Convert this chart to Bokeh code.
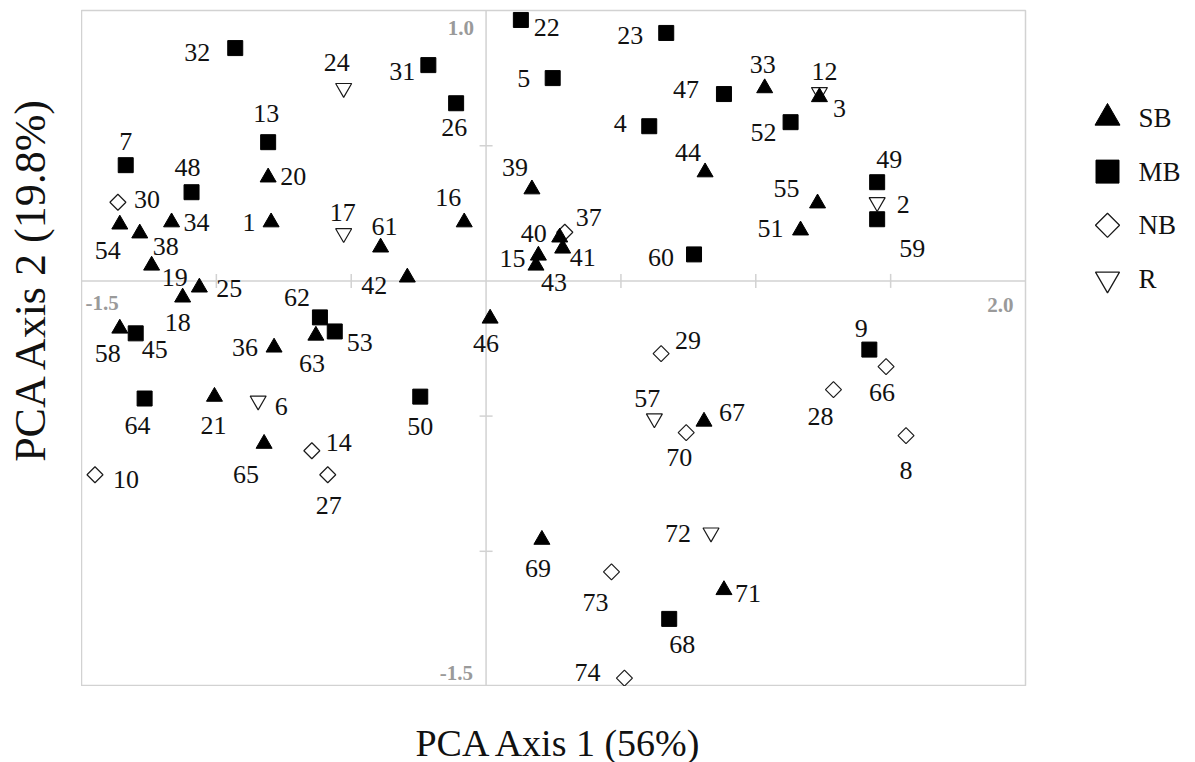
import math
from bokeh.plotting import figure
from bokeh.models import Range1d, ColumnDataSource
from bokeh.layouts import row, column
from bokeh.embed import file_html
from bokeh.resources import INLINE
from bokeh.core.properties import value

# ---------------- data ----------------
groups = ["SB", "MB", "NB", "R"]

sb_ids = [1, 3, 15, 16, 18, 19, 20, 21, 25, 33, 34, 36, 38, 39, 40, 41, 42, 43, 44, 46,
          51, 54, 55, 58, 61, 63, 65, 67, 69, 71]
sb_x = [-0.797, 1.236, 0.194, -0.081, -1.125, -1.240, -0.808, -1.007, -1.063, 1.033,
        -1.166, -0.786, -1.284, 0.170, 0.273, 0.284, -0.292, 0.185, 0.812, 0.015,
        1.166, -1.358, 1.229, -1.358, -0.391, -0.631, -0.823, 0.808, 0.207, 0.882]
sb_y = [0.217, 0.680, 0.094, 0.217, -0.061, 0.057, 0.383, -0.428, -0.024, 0.713,
        0.217, -0.246, 0.176, 0.339, 0.161, 0.120, 0.013, 0.057, 0.402, -0.139,
        0.187, 0.209, 0.287, -0.176, 0.124, -0.202, -0.602, -0.520, -0.957, -1.143]

mb_ids = [4, 5, 7, 9, 13, 22, 23, 26, 31, 32, 45, 47, 48, 49, 50, 52, 53, 59, 60, 62, 64, 68]
mb_x = [0.605, 0.247, -1.336, 1.421, -0.808, 0.129, 0.668, -0.111, -0.214, -0.930,
        -1.299, 0.882, -1.092, 1.450, -0.244, 1.129, -0.561, 1.450, 0.771, -0.616,
        -1.266, 0.679]
mb_y = [0.572, 0.750, 0.428, -0.254, 0.513, 0.965, 0.917, 0.657, 0.798, 0.861,
        -0.194, 0.691, 0.328, 0.365, -0.428, 0.587, -0.187, 0.228, 0.098, -0.135,
        -0.435, -1.250]

nb_ids = [8, 10, 14, 27, 28, 29, 30, 37, 66, 70, 73, 74]
nb_x = [1.557, -1.450, -0.646, -0.587, 1.288, 0.649, -1.365, 0.292, 1.483, 0.742, 0.465, 0.513]
nb_y = [-0.572, -0.717, -0.628, -0.717, -0.402, -0.269, 0.291, 0.180, -0.317, -0.561, -1.076, -1.469]

r_ids = [2, 6, 12, 17, 24, 57, 72]
r_x = [1.450, -0.845, 1.236, -0.528, -0.528, 0.624, 0.834]
r_y = [0.291, -0.443, 0.698, 0.176, 0.713, -0.509, -0.931]

x_min, x_max = -1.5, 2.0
y_min, y_max = -1.5, 1.0
x_ticks = [-1.0, -0.5, 0.5, 1.0, 1.5]
y_ticks = [-1.0, -0.5, 0.5]
x_title = "PCA Axis 1 (56%)"
y_title = "PCA Axis 2 (19.8%)"

# label placement (screen pixel offsets from the point), layout only
label_offsets = {
    1: (-22, 0), 3: (20, 11), 15: (-26, 3), 16: (-16, -25), 18: (-5, 25), 19: (23, 12),
    20: (25, -1), 21: (-1, 29), 25: (30, 1), 33: (-2, -24), 34: (25, 0), 36: (-29, 0),
    38: (26, 13), 39: (-17, -22), 40: (-26, -4), 41: (20, 9), 42: (-33, 8), 43: (18, 17),
    44: (-17, -20), 46: (-4, 25), 51: (-30, -2), 54: (-12, 26), 55: (-31, -15),
    58: (-12, 25), 61: (4, -21), 63: (-4, 28), 65: (-18, 31), 67: (28, -9), 69: (-4, 29),
    71: (24, 4),
    4: (-29, -3), 5: (-29, 0), 7: (0, -24), 9: (-8, -21), 13: (-2, -29), 22: (26, 8),
    23: (-36, 3), 26: (-2, 24), 31: (-26, 6), 32: (-38, 4), 45: (19, 16), 47: (-38, -5),
    48: (-4, -25), 49: (12, -23), 50: (0, 30), 52: (-27, 10), 53: (25, 11), 59: (35, 29),
    60: (-33, 3), 62: (-23, -20), 64: (-7, 27), 68: (13, 26),
    8: (0, 35), 10: (31, 5), 14: (27, -8), 27: (1, 31), 28: (-13, 27), 29: (27, -13),
    30: (29, -3), 37: (24, -15), 66: (-4, 26), 70: (-7, 25), 73: (-16, 31), 74: (-37, -6),
    2: (26, 2), 6: (23, 6), 12: (5, -21), 17: (-1, -21), 24: (-7, -26), 57: (-7, -20),
    72: (-33, 1),
}

FONT = "Liberation Serif"
AXIS_GRAY = "#d2d2d2"
TICK_TEXT = "#9a9a9a"
INK = "#111111"

LEFT_W = 81
FRAME_W, FRAME_H = 944, 676
TOP_B, RIGHT_B = 10, 2
BOTTOM_H = 762 - FRAME_H - TOP_B
LEG_W = 1195 - LEFT_W - FRAME_W - RIGHT_B
ROW_H = FRAME_H + TOP_B


def blank_figure(w, h, xr, yr):
    f = figure(width=w, height=h, x_range=xr, y_range=yr,
               x_axis_location=None, y_axis_location=None,
               toolbar_location=None, output_backend="svg", min_border=0)
    f.outline_line_color = None
    f.grid.grid_line_color = None
    f.background_fill_color = "white"
    f.border_fill_color = "white"
    return f


# ---------------- main figure ----------------
p = figure(frame_width=FRAME_W, frame_height=FRAME_H,
           x_range=Range1d(x_min, x_max), y_range=Range1d(y_min, y_max),
           x_axis_location=None, y_axis_location=None,
           toolbar_location=None, output_backend="svg",
           min_border_left=0, min_border_right=RIGHT_B, min_border_top=TOP_B,
           min_border_bottom=0)
p.grid.grid_line_color = None
p.outline_line_color = AXIS_GRAY
p.outline_line_width = 1.5
p.background_fill_color = "white"
p.border_fill_color = "white"

# cross axes through origin
p.segment(x0=[x_min, 0], y0=[0, y_min], x1=[x_max, 0], y1=[0, y_max],
          line_color=AXIS_GRAY, line_width=1.5)
p.scatter(x=x_ticks, y=[0] * len(x_ticks), marker="dash", angle=math.pi / 2, size=14,
          line_color=AXIS_GRAY, line_width=1.5)
p.scatter(x=[0] * len(y_ticks), y=y_ticks, marker="dash", size=13,
          line_color=AXIS_GRAY, line_width=1.5)

# range-end labels
tick_style = dict(text_font=value(FONT), text_font_size="21px", text_font_style="bold",
                  text_color=TICK_TEXT, text_baseline="middle")
p.text(x=[x_min], y=[0], text=[f"{x_min:.1f}"], x_offset=4, y_offset=22,
       text_align="left", **tick_style)
p.text(x=[x_max], y=[0], text=[f"{x_max:.1f}"], x_offset=-12, y_offset=24,
       text_align="right", **tick_style)
p.text(x=[0], y=[y_max], text=[f"{y_max:.1f}"], x_offset=-12, y_offset=17,
       text_align="right", **tick_style)
p.text(x=[0], y=[y_min], text=[f"{y_min:.1f}"], x_offset=-13, y_offset=-14,
       text_align="right", **tick_style)

# markers (draw order: NB, R, MB, SB)
p.scatter(x=nb_x, y=nb_y, marker="square", angle=math.pi / 4, size=11.3,
          fill_color="white", line_color="#1a1a1a", line_width=1.2)
p.scatter(x=r_x, y=r_y, marker="inverted_triangle", size=16,
          fill_color="white", line_color="#1a1a1a", line_width=1.2)
p.scatter(x=mb_x, y=mb_y, marker="square", size=15,
          fill_color="black", line_color="black", line_width=1)
p.scatter(x=sb_x, y=sb_y, marker="triangle", size=16,
          fill_color="black", line_color="black", line_width=1)

# point labels
all_ids = sb_ids + mb_ids + nb_ids + r_ids
all_x = sb_x + mb_x + nb_x + r_x
all_y = sb_y + mb_y + nb_y + r_y
lab_src = ColumnDataSource(dict(
    x=all_x, y=all_y, text=[str(i) for i in all_ids],
    dx=[label_offsets[i][0] for i in all_ids],
    dy=[label_offsets[i][1] for i in all_ids],
))
p.text(x="x", y="y", text="text", x_offset="dx", y_offset="dy", source=lab_src,
       text_font=value(FONT), text_font_size="26px", text_color=INK,
       text_align="center", text_baseline="middle")

# ---------------- y-axis title strip ----------------
yfig = blank_figure(LEFT_W, ROW_H, Range1d(0, LEFT_W), Range1d(ROW_H, 0))
yfig.text(x=[30], y=[272], text=[y_title], angle=math.pi / 2,
          text_font=value(FONT), text_font_size="44px", text_color=INK,
          text_align="center", text_baseline="middle")

# ---------------- legend strip ----------------
leg = blank_figure(LEG_W, ROW_H, Range1d(0, LEG_W), Range1d(ROW_H, 0))
leg_y = [109 + 54.5 * i for i in range(len(groups))]
mk_x = 80
leg.scatter(x=[mk_x], y=[leg_y[0]], marker="triangle", size=25, fill_color="black", line_color="black")
leg.scatter(x=[mk_x], y=[leg_y[1]], marker="square", size=23, fill_color="black", line_color="black")
leg.scatter(x=[mk_x], y=[leg_y[2]], marker="square", angle=math.pi / 4, size=17,
            fill_color="white", line_color="#1a1a1a", line_width=1.3)
leg.scatter(x=[mk_x], y=[leg_y[3]], marker="inverted_triangle", size=24,
            fill_color="white", line_color="#1a1a1a", line_width=1.3)
leg.text(x=[mk_x + 31] * len(groups), y=leg_y, text=groups, text_font=value(FONT),
         text_font_size="27px", text_color=INK, text_align="left", text_baseline="middle")

# ---------------- x-axis title strip ----------------
xfig = blank_figure(1195, BOTTOM_H, Range1d(0, 1195), Range1d(BOTTOM_H, 0))
xfig.text(x=[559], y=[742 - ROW_H], text=[x_title],
          text_font=value(FONT), text_font_size="38px", text_color=INK,
          text_align="center", text_baseline="middle")

layout = column(row(yfig, p, leg), xfig)
open("out.html", "w").write(file_html(layout, INLINE))
